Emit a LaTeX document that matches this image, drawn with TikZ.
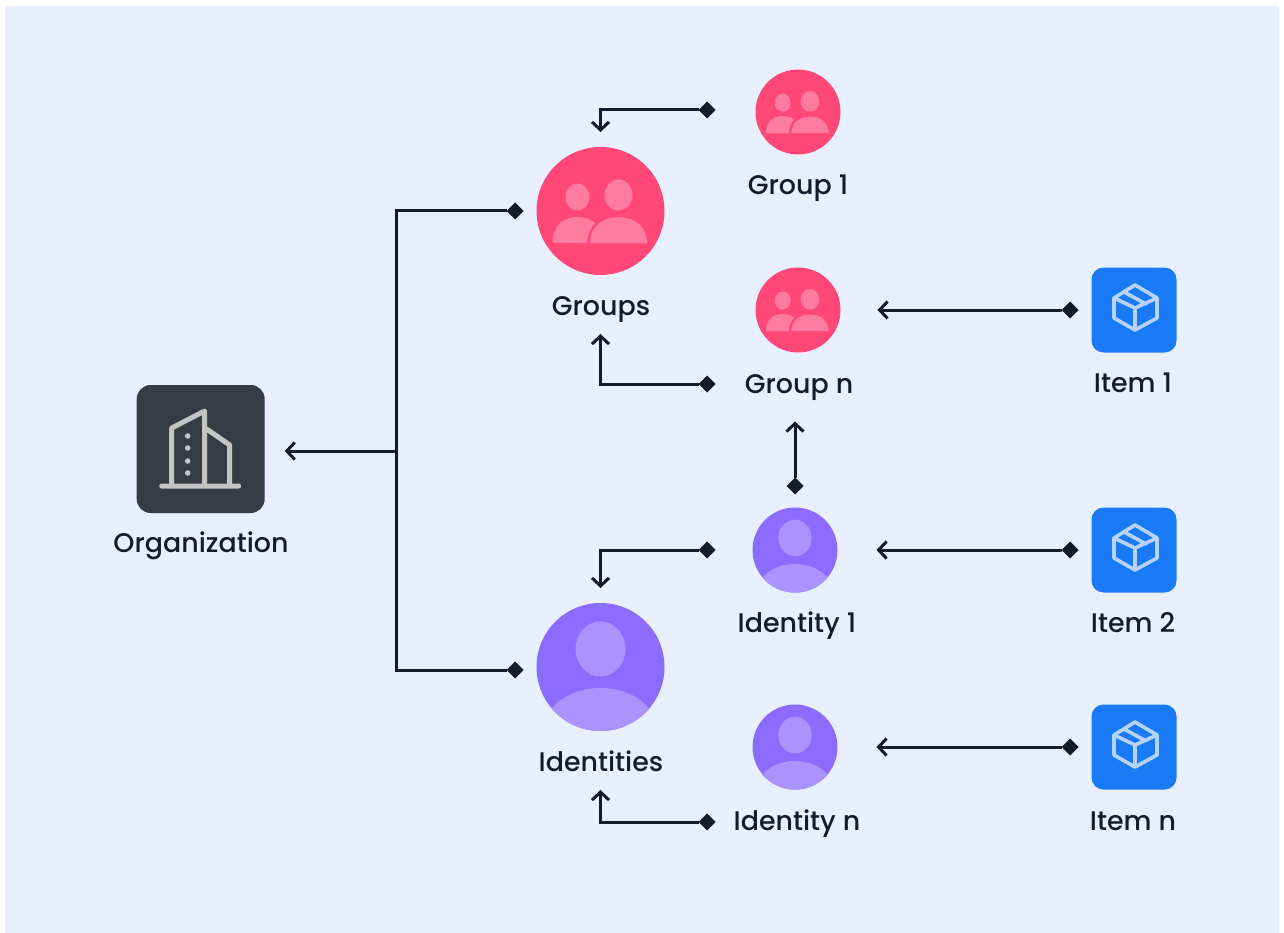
\documentclass[tikz,border=0pt]{standalone}
\usepackage{fontspec}
\setmainfont{Poppins}[UprightFont=* Medium]
\usetikzlibrary{arrows.meta,shapes.geometric}
\definecolor{bgblue}{HTML}{E8F0FF}
\definecolor{pinkd}{HTML}{FF4778}
\definecolor{pinkl}{HTML}{FF7BA0}
\definecolor{purpd}{HTML}{8B6CFF}
\definecolor{purpl}{HTML}{A994FF}
\definecolor{blued}{HTML}{1A7AF5}
\definecolor{boxl}{HTML}{B5D3FB}
\definecolor{darkbox}{HTML}{373B43}
\definecolor{orgl}{HTML}{C4C4C4}
\definecolor{ink}{HTML}{141B2B}
\tikzset{
  x=1pt,y=-1pt,
  disc/.style={circle,draw=none,inner sep=0pt,outer sep=0pt,minimum size=#1},
  tile/.style={rectangle,draw=none,inner sep=0pt,outer sep=0pt,minimum size=#1,rounded corners=12pt},
  lbl/.style={anchor=base,text=ink,inner sep=0pt,font=\fontsize{26.9}{30}\selectfont},
  tipd/.style={diamond,fill=ink,draw=none,inner sep=0pt,outer sep=0pt,minimum size=17pt},
  conn/.style={draw=ink,line width=3pt},
  arr/.style={conn,-{Straight Barb[length=8pt,width=17pt,line width=3pt]},shorten >=#1},
  arr/.default=0pt,
  pics/people/.style={code={
    \fill[pinkl] (-23,-14) ellipse [x radius=12,y radius=13.5];
    \fill[pinkl] (18,-16) ellipse [x radius=14,y radius=15.5];
    \fill[pinkl] (-48,32) .. controls (-48,15) and (-38,6) .. (-23,6)
       .. controls (-8,6) and (2,15) .. (2,32) -- cycle;
    \fill[pinkl,draw=pinkd,line width=2.4pt] (-12,33.5) .. controls (-12,15) and (0,5) .. (18,5)
       .. controls (36,5) and (48,15) .. (48,33.5) -- cycle;
  }},
  pics/person/.style={code={
    \begin{scope}
      \clip (0,0) circle [radius=64];
      \fill[purpl] (0,60) ellipse [x radius=55,y radius=39];
    \end{scope}
    \fill[purpl] (0,-18) ellipse [x radius=25,y radius=27.5];
  }},
  pics/parcel/.style={code={
    \draw[boxl,line width=3.6pt,line join=round,line cap=round]
      (1,-25) -- (23,-12) -- (23,8) -- (1,20) -- (-20,8) -- (-20,-12) -- cycle
      (-20,-12) -- (1,-2) -- (23,-12) (1,-2) -- (1,20)
      (-10,-18) -- (12,-6);
  }},
  pics/tower/.style={code={
    \draw[orgl,line width=5pt,line join=round,line cap=round]
      (-39,37) -- (38,37)
      (-29,37) -- (-29,-21) -- (4,-38) -- (4,37)
      (6,-20) -- (29,-4) -- (29,37);
    \foreach \yy in {-13,-1,12,24} \fill[orgl] (-13,\yy) circle [radius=2.8];
  }}
}
\begin{document}
\begin{tikzpicture}
\useasboundingbox (0,0) rectangle (1284,933);
\fill[white] (0,0) rectangle (1284,933);
\fill[bgblue] (5,6) rectangle (1279,933);

% main nodes
\node[tile=128pt,rounded corners=14pt,fill=darkbox] (org) at (200.7,449) {};
\node[disc=128pt,fill=pinkd] (groups) at (600.5,211) {};
\node[disc=128pt,fill=purpd] (idents) at (600.5,667) {};
\node[disc=85pt,fill=pinkd] (g1) at (798,112) {};
\node[disc=85pt,fill=pinkd] (gn) at (798,310) {};
\node[disc=85pt,fill=purpd] (i1) at (795,550) {};
\node[disc=85pt,fill=purpd] (in) at (795,747) {};
\node[tile=85pt,fill=blued] (it1) at (1134,310) {};
\node[tile=85pt,fill=blued] (it2) at (1134,550) {};
\node[tile=85pt,fill=blued] (itn) at (1134,747) {};

% icons
\pic at (org) {tower};
\pic at (groups) {people};
\pic[scale=.667] at (g1) {people};
\pic[scale=.667] at (gn) {people};
\pic at (idents) {person};
\pic[scale=.667] at (i1) {person};
\pic[scale=.667] at (in) {person};
\pic at (it1) {parcel};
\pic at (it2) {parcel};
\pic at (itn) {parcel};

% labels
\node[lbl] (lorg) at (201,552.5) {Organization};
\node[lbl] (lgroups) at (601,315) {Groups};
\node[lbl] (lg1) at (798,195) {Group 1};
\node[lbl] (lgn) at (799,393) {Group n};
\node[lbl] (li1) at (797,632.5) {Identity 1};
\node[lbl] (lin) at (797,830) {Identity n};
\node[lbl] (lidents) at (601,771) {Identities};
\node[lbl] (lit1) at (1133,392) {Item 1};
\node[lbl] (lit2) at (1133,632) {Item 2};
\node[lbl] (litn) at (1133,830) {Item n};

% connector ends
\node[tipd] (dgroups) at (515,211) {};
\node[tipd] (didents) at (515,670) {};
\node[tipd] (dg1) at (707,110) {};
\node[tipd] (dgn) at (707,384) {};
\node[tipd] (di1) at (707,550) {};
\node[tipd] (din) at (707,822) {};
\node[tipd] (dlink) at (795,486) {};
\node[tipd] (dit1) at (1070,310) {};
\node[tipd] (dit2) at (1070,550) {};
\node[tipd] (ditn) at (1070,747) {};
\coordinate (hub) at (396,451);

% connectors
\draw[conn] (dgroups) -| (hub);
\draw[conn] (didents) -| (hub);
\draw[arr=20pt] (hub) -- (org.east |- hub);
\draw[arr=15pt] (dg1) -| (groups.north);
\draw[arr=59pt] (dgn) -| (groups.south);
\draw[arr=15pt] (di1) -| (idents.north);
\draw[arr=59pt] (din) -| (idents.south);
\draw[arr=69pt] (dlink) -- (gn.south -| dlink);
\draw[arr=37pt] (dit1) -- (gn.east);
\draw[arr=39pt] (dit2) -- (i1.east);
\draw[arr=39pt] (ditn) -- (in.east);
\end{tikzpicture}
\end{document}
